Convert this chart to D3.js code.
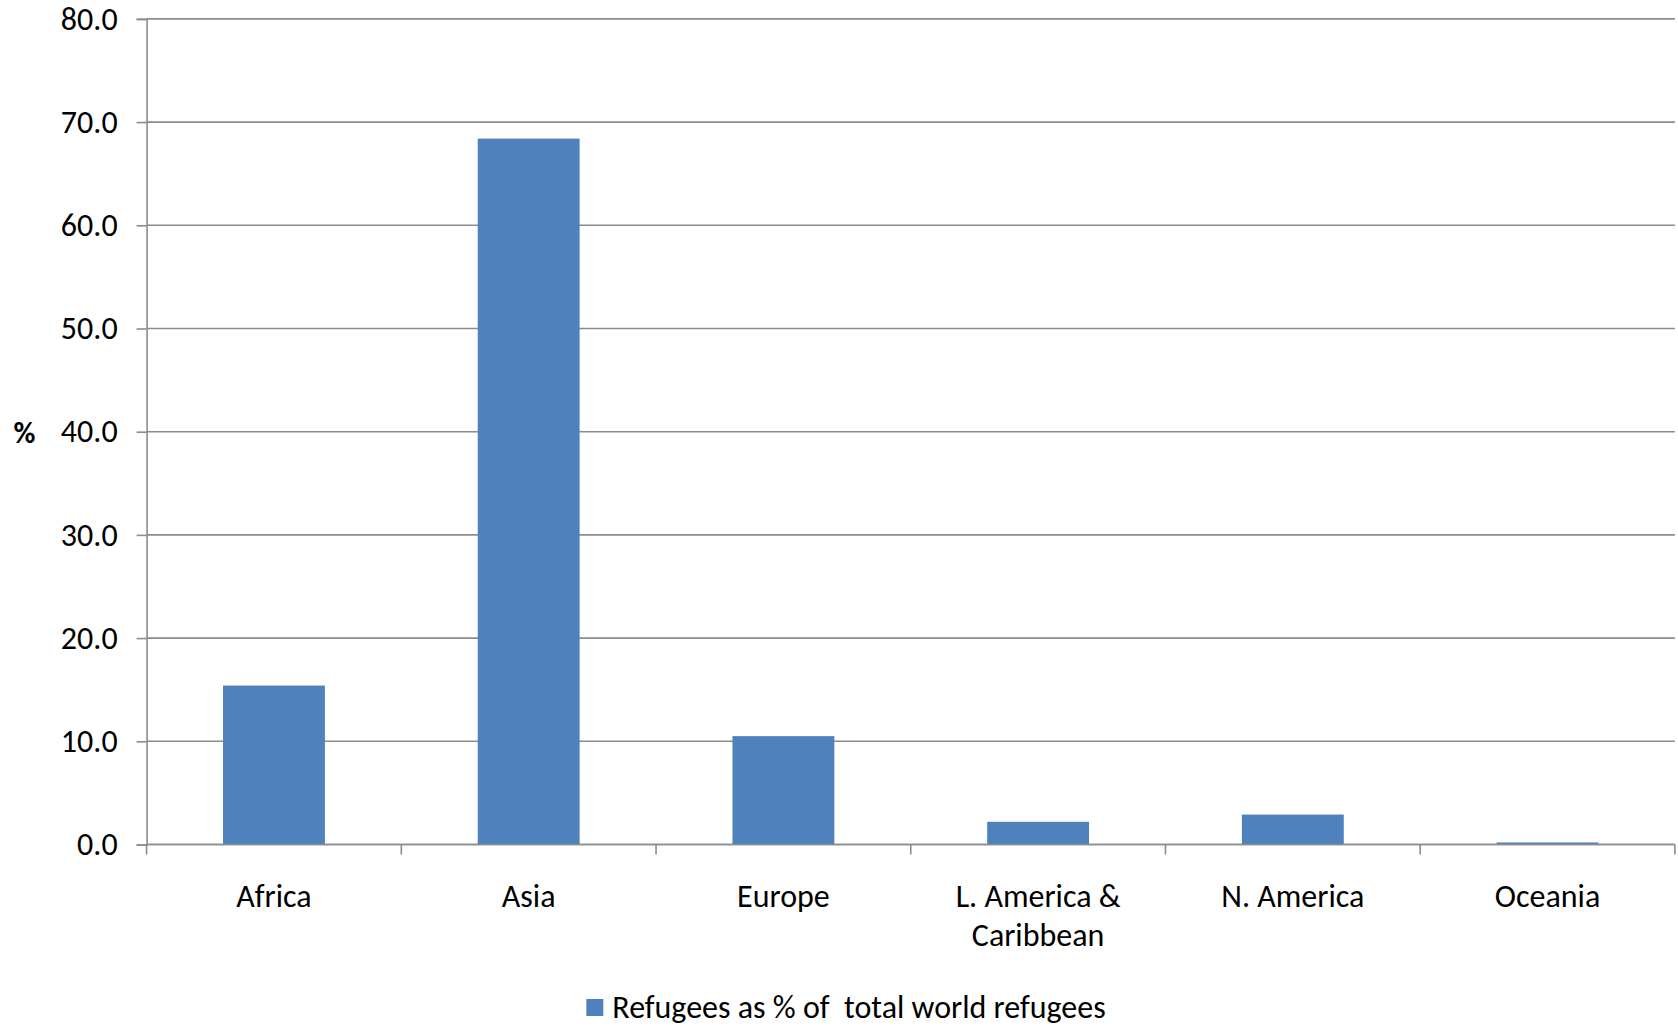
<!DOCTYPE html>
<html>
<head>
<meta charset="utf-8">
<script src="https://cdn.jsdelivr.net/npm/d3@7"></script>
<style>
  html, body { margin: 0; padding: 0; background: #ffffff; }
  svg { display: block; }
  text { font-family: Carlito, Lato, "Open Sans", sans-serif; fill: #000; }
</style>
</head>
<body>
<svg id="chart" width="1678" height="1028"></svg>
<script>
// Share of world refugees hosted by each region
const categories = ["Africa", "Asia", "Europe", "L. America & Caribbean", "N. America", "Oceania"];
const values = [15.4, 68.4, 10.5, 2.2, 2.9, 0.2];
const yTicks = [0, 10, 20, 30, 40, 50, 60, 70, 80];
const seriesName = "Refugees as % of  total world refugees";
const yAxisTitle = "%";

const W = 1678, H = 1028;
const margin = { left: 146.6, right: 3.1, top: 18.9, bottom: 183.5 };
const barColor = "#4F81BD";
const gridColor = "#8C8C8C";
const fontSize = 32;

const svg = d3.select("#chart");

const x = d3.scaleBand()
  .domain(categories)
  .range([margin.left, W - margin.right])
  .paddingInner(0.6)
  .paddingOuter(0.3);

const y = d3.scaleLinear()
  .domain([0, 80])
  .range([H - margin.bottom, margin.top]);

// Horizontal gridlines
svg.append("g")
  .selectAll("line")
  .data(yTicks)
  .join("line")
  .attr("x1", margin.left)
  .attr("x2", W - margin.right)
  .attr("y1", d => y(d))
  .attr("y2", d => y(d))
  .attr("stroke", gridColor)
  .attr("stroke-width", 1.6);

// Y axis with tick labels
const yAxis = d3.axisLeft(y)
  .tickValues(yTicks)
  .tickFormat(d3.format(".1f"))
  .tickSize(10)
  .tickPadding(19);

const gy = svg.append("g")
  .attr("transform", `translate(${margin.left},0)`)
  .call(yAxis);
gy.select(".domain").attr("stroke", gridColor).attr("stroke-width", 1.6);
gy.selectAll(".tick line").attr("stroke", gridColor).attr("stroke-width", 1.6);
gy.selectAll(".tick text")
  .style("font-family", "Carlito, Lato, 'Open Sans', sans-serif")
  .style("font-size", fontSize + "px")
  .attr("fill", "#000");

// Bars
svg.append("g")
  .selectAll("rect")
  .data(categories.map((c, i) => ({ c, v: values[i] })))
  .join("rect")
  .attr("x", d => x(d.c))
  .attr("width", x.bandwidth())
  .attr("y", d => y(d.v))
  .attr("height", d => y(0) - y(d.v))
  .attr("fill", barColor);

// X axis baseline and category boundary ticks
const step = x.step();
const x0 = x.range()[0];
const boundaries = d3.range(categories.length + 1).map(i => x0 + i * step);
const gx = svg.append("g");
gx.append("line")
  .attr("x1", margin.left)
  .attr("x2", W - margin.right)
  .attr("y1", y(0))
  .attr("y2", y(0))
  .attr("stroke", gridColor)
  .attr("stroke-width", 1.6);
gx.selectAll("line.tick")
  .data(boundaries)
  .join("line")
  .attr("class", "tick")
  .attr("x1", d => d)
  .attr("x2", d => d)
  .attr("y1", y(0))
  .attr("y2", y(0) + 10)
  .attr("stroke", gridColor)
  .attr("stroke-width", 1.6);

// Category labels, wrapped after "&"
function labelLines(label) {
  const k = label.indexOf("& ");
  return k >= 0 ? [label.slice(0, k + 1), label.slice(k + 2)] : [label];
}
const labels = gx.selectAll("text.cat")
  .data(categories)
  .join("text")
  .attr("class", "cat")
  .attr("text-anchor", "middle")
  .attr("font-size", fontSize)
  .attr("x", d => x(d) + x.bandwidth() / 2)
  .attr("y", y(0) + 62);
labels.selectAll("tspan")
  .data(d => labelLines(d).map(t => ({ t, x: x(d) + x.bandwidth() / 2 })))
  .join("tspan")
  .attr("x", d => d.x)
  .attr("dy", (d, i) => i === 0 ? 0 : 39)
  .text(d => d.t);

// Y axis title
svg.append("text")
  .attr("x", 24.5)
  .attr("y", y(40) + 11)
  .attr("text-anchor", "middle")
  .attr("font-size", 30)
  .attr("font-weight", "bold")
  .text(yAxisTitle);

// Legend
const legend = svg.append("g");
legend.append("rect")
  .attr("x", 0)
  .attr("y", -8)
  .attr("width", 17)
  .attr("height", 17)
  .attr("fill", barColor);
const legendText = legend.append("text")
  .attr("x", 26)
  .attr("y", 11)
  .attr("font-size", fontSize)
  .attr("xml:space", "preserve")
  .style("white-space", "pre")
  .text(seriesName);
const lw = 26 + legendText.node().getComputedTextLength();
legend.attr("transform", `translate(${846 - lw / 2},1007)`);
</script>
</body>
</html>
